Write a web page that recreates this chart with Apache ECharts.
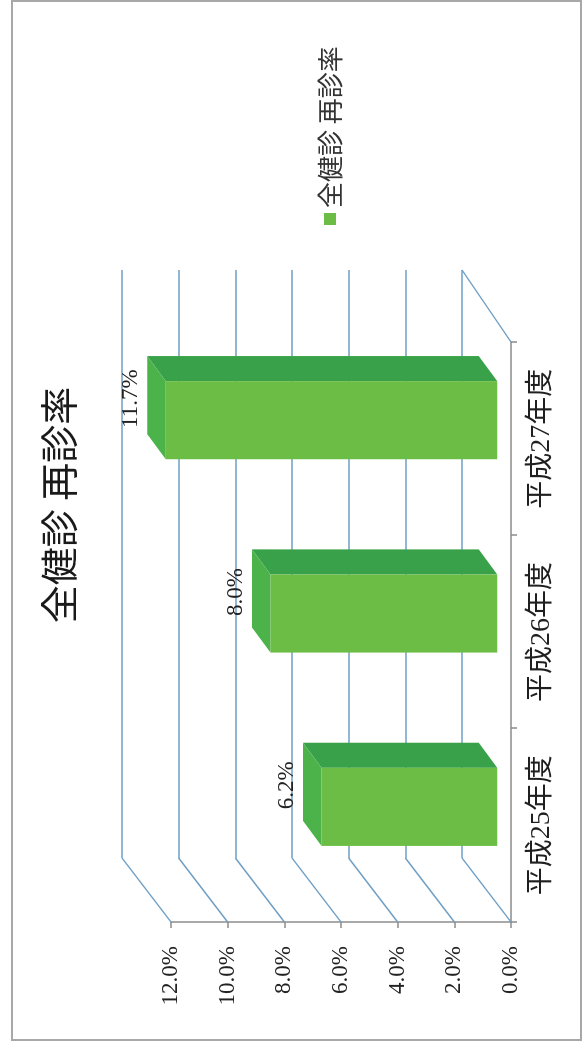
<!DOCTYPE html>
<html>
<head>
<meta charset="utf-8">
<script src="https://cdn.jsdelivr.net/npm/echarts@6/dist/echarts.min.js"></script>
<style>
html,body{margin:0;padding:0;background:#fff;}
#page{position:relative;width:587px;height:1046px;overflow:hidden;background:#fff;}
#frame{position:absolute;left:11px;top:0px;width:571px;height:1041px;box-sizing:border-box;border:2px solid #a8a8a8;z-index:5;pointer-events:none;}
#chart{position:absolute;left:0;top:1046px;width:1046px;height:587px;transform-origin:0 0;transform:rotate(-90deg);}
</style>
</head>
<body>
<div id="page"><div id="chart"></div><div id="frame"></div></div>
<script>
// ---- data ----
const titleText = '全健診 再診率';
const seriesName = '全健診 再診率';
const categories = ['平成25年度', '平成26年度', '平成27年度'];
const values = [6.2, 8.0, 11.7];
const valueTicks = [0, 2, 4, 6, 8, 10, 12];

// ---- style constants ----
const FRONT_C = '#6cbd45', TOP_C = '#4bb34a', SIDE_C = '#39a14a';
const GRID_C = '#6f9fc4', AXIS_C = '#8c8c8c';
const WALL_DX = 64, WALL_DY = -49, FLOOR_DX = 72;
const D1 = 0.28, D2 = 0.66, DEPTH_X = 66, DEPTH_Y = -49, BAR_W = 0.404;
const LABEL_DX = 40;
const SERIF = "'Liberation Serif', 'Noto Sans CJK JP', serif";

const chart = echarts.init(document.getElementById('chart'), null, {renderer: 'canvas'});

chart.setOption({
  animation: false,
  backgroundColor: '#fff',
  title: {
    text: titleText, left: 536, top: 35, textAlign: 'center',
    textStyle: {fontSize: 38, fontWeight: 'normal', color: '#1a1a1a', fontFamily: 'Noto Sans CJK JP'}
  },
  legend: {
    data: [{name: seriesName, icon: 'rect'}],
    left: 816, top: 312, itemWidth: 12, itemHeight: 12, itemGap: 10,
    textStyle: {fontSize: 26, color: '#333', fontFamily: 'Noto Sans CJK JP'}
  },
  grid: [
    {left: 124, top: 171, width: 580, height: 340},
    {left: 188, top: 122, width: 588, height: 340}
  ],
  xAxis: [
    {gridIndex: 0, type: 'category', data: categories,
     axisLine: {lineStyle: {color: AXIS_C, width: 1.5}},
     axisTick: {show: true, length: 6, lineStyle: {color: AXIS_C, width: 1.5}},
     axisLabel: {fontSize: 28, margin: 17, color: '#1f1f1f', fontFamily: SERIF},
     splitLine: {show: false}},
    {gridIndex: 1, type: 'category', data: categories,
     axisLine: {show: false}, axisTick: {show: false}, axisLabel: {show: false}, splitLine: {show: false}}
  ],
  yAxis: [
    {gridIndex: 0, type: 'value', min: 0, max: 12, interval: 2,
     axisLine: {show: true, lineStyle: {color: AXIS_C, width: 1.5}},
     axisTick: {show: true, length: 6, lineStyle: {color: AXIS_C, width: 1.5}},
     axisLabel: {formatter: v => v.toFixed(1) + '%', fontSize: 23, margin: 24, color: '#222', fontFamily: SERIF},
     splitLine: {show: false}},
    {gridIndex: 1, type: 'value', min: 0, max: 12, interval: 2,
     axisLine: {show: false}, axisTick: {show: false}, axisLabel: {show: false},
     splitLine: {show: true, lineStyle: {color: GRID_C, width: 1.5}}}
  ],
  series: [
    { // left wall diagonals
      type: 'custom', xAxisIndex: 0, yAxisIndex: 0, silent: true, z: 1,
      data: valueTicks.map(v => [0, v]),
      renderItem: (params, api) => {
        const p = api.coord([0, api.value(1)]);
        const bw = api.size([1, 0])[0];
        const x0 = p[0] - bw / 2;
        return {type: 'line', shape: {x1: x0, y1: p[1], x2: x0 + WALL_DX, y2: p[1] + WALL_DY},
                style: {stroke: GRID_C, lineWidth: 1.5}};
      }
    },
    { // floor right edge
      type: 'custom', xAxisIndex: 0, yAxisIndex: 0, silent: true, z: 1,
      data: [[categories.length - 1, 0]],
      renderItem: (params, api) => {
        const p = api.coord([api.value(0), api.value(1)]);
        const bw = api.size([1, 0])[0];
        const x0 = p[0] + bw / 2;
        return {type: 'line', shape: {x1: x0, y1: p[1], x2: x0 + FLOOR_DX, y2: p[1] + WALL_DY},
                style: {stroke: GRID_C, lineWidth: 1.5}};
      }
    },
    { // 3D bars
      name: seriesName, type: 'custom', xAxisIndex: 0, yAxisIndex: 0, z: 3,
      itemStyle: {color: FRONT_C},
      data: values.map((v, i) => [i, v]),
      encode: {x: 0, y: 1},
      renderItem: (params, api) => {
        const v = api.value(1);
        const base = api.coord([api.value(0), 0]);
        const top = api.coord([api.value(0), v]);
        const w = api.size([1, 0])[0] * BAR_W;
        const fx = D1 * DEPTH_X, fy = D1 * DEPTH_Y;
        const bx = D2 * DEPTH_X, by = D2 * DEPTH_Y;
        const xl = base[0] - w / 2, xr = base[0] + w / 2;
        const yb = base[1], yt = top[1];
        const F = (x, y) => [x + fx, y + fy];
        const B = (x, y) => [x + bx, y + by];
        return {
          type: 'group',
          children: [
            {type: 'polygon', shape: {points: [F(xr, yt), F(xr, yb), B(xr, yb), B(xr, yt)]}, style: {fill: SIDE_C}},
            {type: 'polygon', shape: {points: [F(xl, yt), F(xr, yt), B(xr, yt), B(xl, yt)]}, style: {fill: TOP_C}},
            {type: 'rect', shape: {x: xl + fx, y: yt + fy, width: w, height: yb - yt}, style: {fill: FRONT_C}},
            {type: 'text', style: {
              text: v.toFixed(1) + '%', x: base[0] + LABEL_DX, y: yt + by - 5,
              align: 'center', verticalAlign: 'bottom',
              fontSize: 23, fontFamily: SERIF, fill: '#222'}}
          ]
        };
      }
    }
  ]
});
</script>
</body>
</html>
